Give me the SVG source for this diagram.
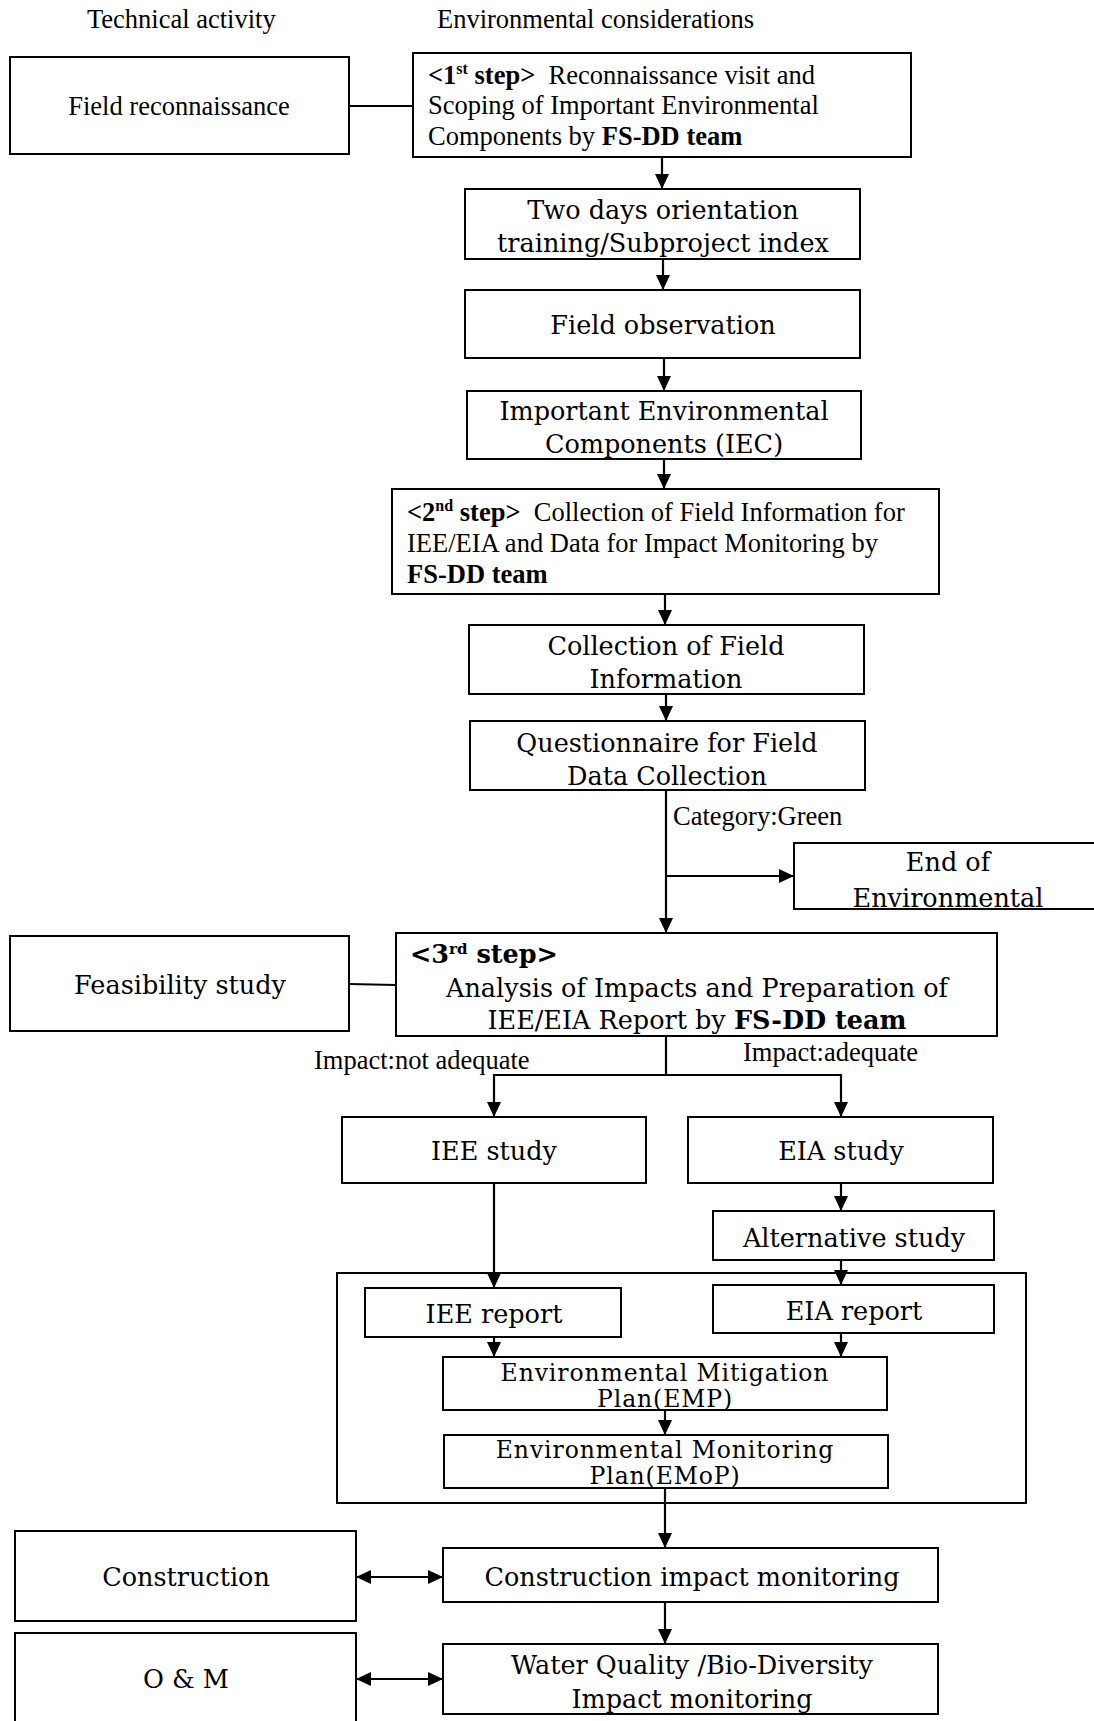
<svg xmlns="http://www.w3.org/2000/svg" width="1094" height="1721" viewBox="0 0 1094 1721">
  <defs>
    <marker id="arrow" viewBox="0 0 15 14" refX="15" refY="7" markerWidth="15" markerHeight="14" markerUnits="userSpaceOnUse" orient="auto-start-reverse">
      <path d="M0,0 L15,7 L0,14 Z" fill="#000"/>
    </marker>
  </defs>
  <style>
    rect { fill: #fff; stroke: #000; stroke-width: 2; }
    .conn line, .conn polyline { stroke: #000; stroke-width: 2.2; fill: none; }
    .arr { marker-end: url(#arrow); }
    .both { marker-start: url(#arrow); marker-end: url(#arrow); }
    .t { font-family: "Liberation Serif", "Times New Roman", serif; font-size: 26.5px; fill: #000; }
    .c { font-family: "DejaVu Serif", "Liberation Serif", serif; font-size: 25.5px; fill: #000; text-anchor: middle; }
    .tight { font-size: 23.5px; letter-spacing: 0.9px; }
    .mid { text-anchor: middle; }
    .b { font-weight: bold; }
  </style>
  <rect x="0" y="0" width="1094" height="1721" style="stroke:none"/>

  <!-- column headings -->
  <text class="t" x="87" y="28">Technical activity</text>
  <text class="t" x="437" y="28">Environmental considerations</text>

  <!-- connectors -->
  <g class="conn">
    <line x1="349" y1="106" x2="413" y2="106"/>
    <line class="arr" x1="662" y1="157" x2="662" y2="189"/>
    <line class="arr" x1="663" y1="259" x2="663" y2="290"/>
    <line class="arr" x1="664" y1="358" x2="664" y2="391"/>
    <line class="arr" x1="664" y1="459" x2="664" y2="489"/>
    <line class="arr" x1="665" y1="594" x2="665" y2="625"/>
    <line class="arr" x1="666" y1="694" x2="666" y2="721"/>
    <line class="arr" x1="666" y1="790" x2="666" y2="933"/>
    <line class="arr" x1="666" y1="876" x2="794" y2="876"/>
    <line x1="349" y1="984" x2="396" y2="985"/>
    <line x1="666" y1="1036" x2="666" y2="1075"/>
    <polyline class="arr" points="666,1075 494,1075 494,1117"/>
    <polyline class="arr" points="666,1075 841,1075 841,1117"/>
    <line class="arr" x1="841" y1="1183" x2="841" y2="1211"/>
    <line class="arr" x1="494" y1="1183" x2="494" y2="1288"/>
    <line class="arr" x1="841" y1="1260" x2="841" y2="1285"/>
    <line class="arr" x1="494" y1="1337" x2="494" y2="1357"/>
    <line class="arr" x1="841" y1="1333" x2="841" y2="1357"/>
    <line class="arr" x1="665" y1="1410" x2="665" y2="1435"/>
    <line class="arr" x1="665" y1="1488" x2="665" y2="1548"/>
    <line class="arr" x1="665" y1="1602" x2="665" y2="1644"/>
    <line class="both" x1="356" y1="1577" x2="443" y2="1577"/>
    <line class="both" x1="356" y1="1679" x2="443" y2="1679"/>
  </g>

  <!-- container around the report stage -->
  <g id="report-stage">
    <rect x="337" y="1273" width="689" height="230" style="fill:none"/>
  </g>

  <g id="field-reconnaissance">
    <rect x="10" y="57" width="339" height="97"/>
    <text class="t mid" x="179" y="115">Field reconnaissance</text>
  </g>

  <g id="step1">
    <rect x="413" y="53" width="498" height="104"/>
    <text class="t" x="428" y="84"><tspan class="b">&lt;1</tspan><tspan class="b" font-size="16" dy="-10">st</tspan><tspan class="b" dy="10"> step&gt;</tspan>&#160; Reconnaissance visit and</text>
    <text class="t" x="428" y="114">Scoping of Important Environmental</text>
    <text class="t" x="428" y="145">Components by <tspan class="b">FS-DD team</tspan></text>
  </g>

  <g id="orientation">
    <rect x="465" y="189" width="395" height="70"/>
    <text class="c" x="663" y="219">Two days orientation</text>
    <text class="c" x="663" y="252">training/Subproject index</text>
  </g>

  <g id="field-observation">
    <rect x="465" y="290" width="395" height="68"/>
    <text class="c" x="663" y="334">Field observation</text>
  </g>

  <g id="iec">
    <rect x="467" y="391" width="394" height="68"/>
    <text class="c" x="664" y="420">Important Environmental</text>
    <text class="c" x="664" y="453">Components (IEC)</text>
  </g>

  <g id="step2">
    <rect x="392" y="489" width="547" height="105"/>
    <text class="t" x="407" y="521"><tspan class="b">&lt;2</tspan><tspan class="b" font-size="16" dy="-10">nd</tspan><tspan class="b" dy="10"> step&gt;</tspan>&#160; Collection of Field Information for</text>
    <text class="t" x="407" y="552">IEE/EIA and Data for Impact Monitoring by</text>
    <text class="t b" x="407" y="583">FS-DD team</text>
  </g>

  <g id="collection">
    <rect x="469" y="625" width="395" height="69"/>
    <text class="c" x="666" y="655">Collection of Field</text>
    <text class="c" x="666" y="688">Information</text>
  </g>

  <g id="questionnaire">
    <rect x="470" y="721" width="395" height="69"/>
    <text class="c" x="667" y="752">Questionnaire for Field</text>
    <text class="c" x="667" y="785">Data Collection</text>
  </g>

  <text class="t" x="673" y="825">Category:Green</text>

  <g id="end-environmental">
    <rect x="794" y="843" width="310" height="66"/>
    <text class="c" x="948" y="871">End of</text>
    <text class="c" x="948" y="907">Environmental</text>
  </g>

  <g id="feasibility">
    <rect x="10" y="936" width="339" height="95"/>
    <text class="c" x="180" y="994">Feasibility study</text>
  </g>

  <g id="step3">
    <rect x="396" y="933" width="601" height="103"/>
    <text class="c b" x="410" y="963" style="text-anchor:start">&lt;3<tspan font-size="15" dy="-9">rd</tspan><tspan dy="9"> step&gt;</tspan></text>
    <text class="c" x="697" y="997">Analysis of Impacts and Preparation of</text>
    <text class="c" x="697" y="1029">IEE/EIA Report by <tspan class="b">FS-DD team</tspan></text>
  </g>

  <text class="t" x="314" y="1069">Impact:not adequate</text>
  <text class="t" x="743" y="1061">Impact:adequate</text>

  <g id="iee-study">
    <rect x="342" y="1117" width="304" height="66"/>
    <text class="c" x="494" y="1160">IEE study</text>
  </g>

  <g id="eia-study">
    <rect x="688" y="1117" width="305" height="66"/>
    <text class="c" x="841" y="1160">EIA study</text>
  </g>

  <g id="alternative-study">
    <rect x="713" y="1211" width="281" height="49"/>
    <text class="c" x="854" y="1247">Alternative study</text>
  </g>

  <g id="iee-report">
    <rect x="365" y="1288" width="256" height="49"/>
    <text class="c" x="494" y="1323">IEE report</text>
  </g>

  <g id="eia-report">
    <rect x="713" y="1285" width="281" height="48"/>
    <text class="c" x="854" y="1320">EIA report</text>
  </g>

  <g id="emp">
    <rect x="443" y="1357" width="444" height="53"/>
    <text class="c tight" x="665" y="1381">Environmental Mitigation</text>
    <text class="c tight" x="665" y="1407">Plan(EMP)</text>
  </g>

  <g id="emop">
    <rect x="444" y="1435" width="444" height="53"/>
    <text class="c tight" x="665" y="1458">Environmental Monitoring</text>
    <text class="c tight" x="665" y="1484">Plan(EMoP)</text>
  </g>

  <g id="construction">
    <rect x="15" y="1531" width="341" height="90"/>
    <text class="c" x="186" y="1586">Construction</text>
  </g>

  <g id="construction-monitoring">
    <rect x="443" y="1548" width="495" height="54"/>
    <text class="c" x="692" y="1586">Construction impact monitoring</text>
  </g>

  <g id="om">
    <rect x="15" y="1633" width="341" height="100"/>
    <text class="c" x="186" y="1688">O &amp; M</text>
  </g>

  <g id="water-monitoring">
    <rect x="443" y="1644" width="495" height="70"/>
    <text class="c" x="692" y="1674">Water Quality /Bio-Diversity</text>
    <text class="c" x="692" y="1708">Impact monitoring</text>
  </g>
</svg>
